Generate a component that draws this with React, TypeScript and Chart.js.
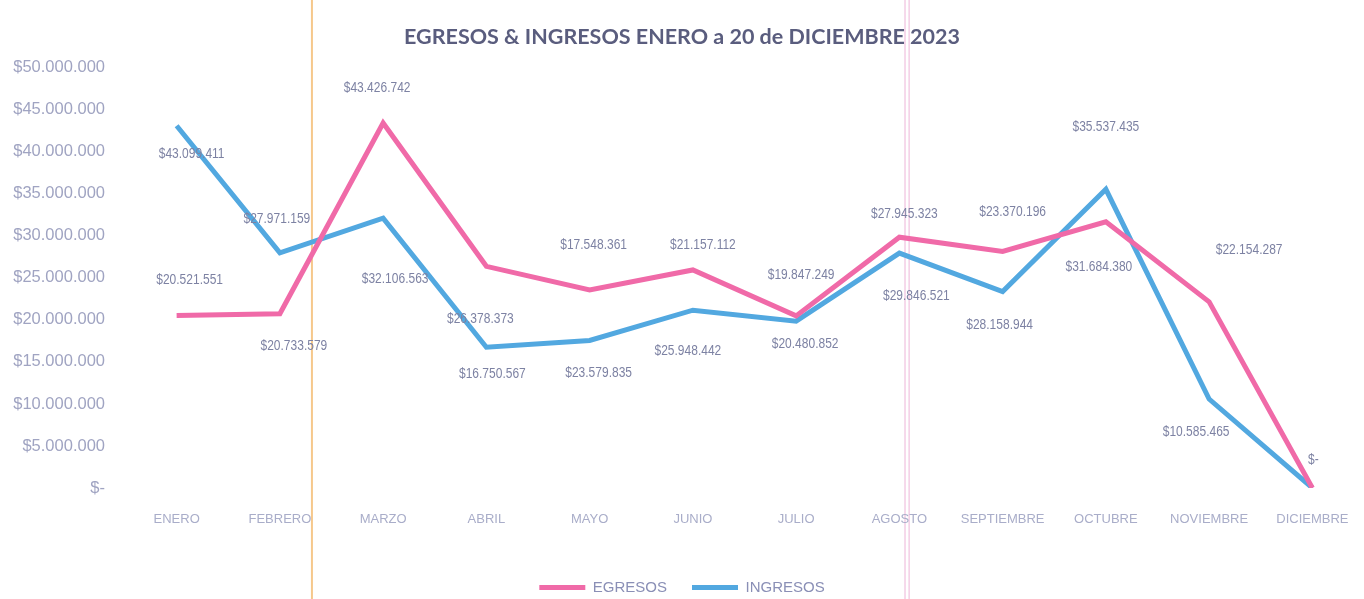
import React, { useEffect, useRef } from "react";
import { Chart, registerables } from "chart.js";

Chart.register(...registerables);

const months = [
  "ENERO", "FEBRERO", "MARZO", "ABRIL", "MAYO", "JUNIO",
  "JULIO", "AGOSTO", "SEPTIEMBRE", "OCTUBRE", "NOVIEMBRE", "DICIEMBRE",
];

const egresos = [
  20521551, 20733579, 43426742, 26378373, 23579835, 25948442,
  20480852, 29846521, 28158944, 31684380, 22154287, 0,
];

const ingresos = [
  43099411, 27971159, 32106563, 16750567, 17548361, 21157112,
  19847249, 27945323, 23370196, 35537435, 10585465, 0,
];

const yTicks = [0, 5000000, 10000000, 15000000, 20000000, 25000000, 30000000, 35000000, 40000000, 45000000, 50000000];

// label placement offsets (px) relative to each point: [dx, dy]
const egresosLabelOffsets = [
  [13, -36], [14, 32], [-6, -35], [-6, 53], [9, 83], [-5, 81],
  [9, 28], [17, 59], [-3, 74], [-7, 45], [40, -52], [1, -28],
];
const ingresosLabelOffsets = [
  [15, 28], [-3, -34], [12, 61], [6, 27], [4, -96], [10, -65],
  [5, -46], [5, -39], [10, -80], [0, -62], [-13, 33], null,
];

const PINK = "#f06aa8";
const BLUE = "#52a8e0";
const SANS = '"Liberation Sans", Arial, sans-serif';

function money(v: number): string {
  if (v === 0) return "$-";
  return "$" + String(Math.round(v)).replace(/\B(?=(\d{3})+(?!\d))/g, ".");
}

const dataLabelPlugin = {
  id: "dataLabels",
  afterDatasetsDraw(chart: any) {
    const ctx = chart.ctx;
    const offsetsBySet = [egresosLabelOffsets, ingresosLabelOffsets];
    chart.data.datasets.forEach((ds: any, i: number) => {
      const meta = chart.getDatasetMeta(i);
      meta.data.forEach((pt: any, j: number) => {
        const off = offsetsBySet[i][j];
        if (!off) return;
        ctx.save();
        ctx.font = `15px ${SANS}`;
        ctx.fillStyle = "#7d82a3";
        ctx.textAlign = "center";
        ctx.textBaseline = "middle";
        ctx.translate(pt.x + off[0], pt.y + off[1]);
        ctx.scale(0.8, 1);
        ctx.fillText(money(ds.data[j]), 0, 0);
        ctx.restore();
      });
    });
  },
};

const artifactPlugin = {
  id: "scanLines",
  beforeDraw(chart: any) {
    const ctx = chart.ctx;
    const w = chart.width;
    const h = chart.height;
    ctx.save();
    ctx.fillStyle = "#ffffff";
    ctx.fillRect(0, 0, w, h);
    ctx.lineWidth = 2;
    ctx.strokeStyle = "rgba(245,190,120,0.85)";
    ctx.beginPath();
    ctx.moveTo(w * 0.2287, 0);
    ctx.lineTo(w * 0.2287, h);
    ctx.stroke();
    ctx.lineWidth = 1;
    ctx.strokeStyle = "rgba(230,150,200,0.7)";
    ctx.beginPath();
    ctx.moveTo(w * 0.6635, 0);
    ctx.lineTo(w * 0.6635, h);
    ctx.moveTo(w * 0.6665, 0);
    ctx.lineTo(w * 0.6665, h);
    ctx.stroke();
    ctx.restore();
  },
};

export default function App() {
  const ref = useRef<HTMLCanvasElement | null>(null);

  useEffect(() => {
    document.body.style.margin = "0";
    if (!ref.current) return;
    const chart = new Chart(ref.current, {
      type: "line",
      data: {
        labels: months,
        datasets: [
          {
            label: "EGRESOS",
            data: egresos,
            borderColor: PINK,
            backgroundColor: PINK,
            borderWidth: 5,
            pointRadius: 0,
            tension: 0,
          },
          {
            label: "INGRESOS",
            data: ingresos,
            borderColor: BLUE,
            backgroundColor: BLUE,
            borderWidth: 5,
            pointRadius: 0,
            tension: 0,
          },
        ],
      },
      options: {
        responsive: false,
        animation: false,
        layout: { padding: { top: 0, right: 0, left: 0, bottom: -6 } },
        plugins: {
          title: {
            display: true,
            text: "EGRESOS & INGRESOS ENERO a 20 de DICIEMBRE 2023",
            color: "#5a5d7e",
            font: { family: "Lato, 'Open Sans', sans-serif", size: 21.5, weight: "bold", lineHeight: 1.2 },
            padding: { top: 24, bottom: 18 },
          },
          legend: {
            position: "bottom",
            labels: {
              usePointStyle: true,
              pointStyle: "line",
              pointStyleWidth: 46,
              padding: 25,
              color: "#8a8fb6",
              font: { family: SANS, size: 15 },
            },
          },
          tooltip: { enabled: false },
        },
        scales: {
          x: {
            offset: true,
            grid: { display: false, drawTicks: false, offset: true },
            border: { display: false },
            ticks: {
              color: "#a9adc9",
              font: { family: SANS, size: 13 },
              padding: 24,
              maxRotation: 0,
              autoSkip: false,
            },
            afterFit: (s: any) => {
              s.height = 67;
              s.paddingLeft = 0;
              s.paddingRight = 0;
            },
          },
          y: {
            min: 0,
            max: 50000000,
            grid: { display: false, drawTicks: false },
            border: { display: false },
            afterBuildTicks: (s: any) => { s.ticks = yTicks.map((v) => ({ value: v })); },
            ticks: {
              color: "#a0a4c2",
              font: { family: SANS, size: 16.5 },
              padding: 20,
              callback: (v: any) => money(Number(v)),
            },
            afterFit: (s: any) => { s.width = 125; },
          },
        },
      },
      plugins: [artifactPlugin, dataLabelPlugin],
    });
    return () => chart.destroy();
  }, []);

  return (
    <div style={{ width: 1364, height: 599 }}>
      <canvas ref={ref} width={1364} height={599} />
    </div>
  );
}
